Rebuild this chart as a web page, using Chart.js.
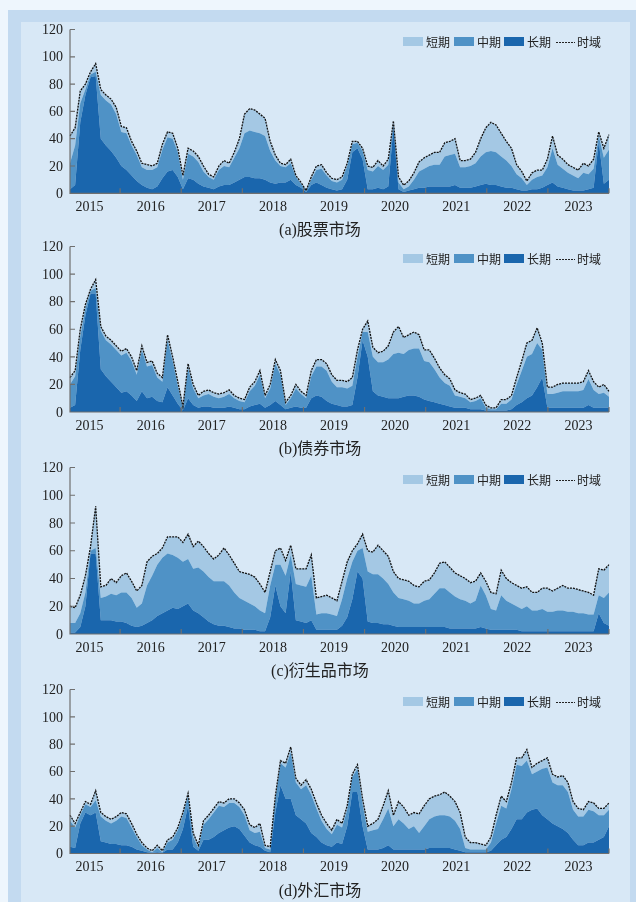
<!DOCTYPE html>
<html>
<head>
<meta charset="utf-8">
<script src="https://cdn.jsdelivr.net/npm/chart.js@4.4.1/dist/chart.umd.min.js"></script>
<style>
  html, body { margin: 0; padding: 0; width: 636px; height: 902px; overflow: hidden; background: #eef6fd; }
  #frame { position: absolute; left: 8px; top: 10px; width: 628px; height: 892px; background: #c3daf0; }
  #inner { position: absolute; left: 21px; top: 22px; width: 609px; height: 880px; background: #d8e8f6; }
  canvas { position: absolute; left: 0; }
  .cap { position: absolute; left: 0; width: 640px; text-align: center; font: 16px "Liberation Serif", "Noto Sans CJK SC", serif; color: #222; line-height: 20px; }
  .sw { position: absolute; width: 20px; height: 9px; }
  .lt { position: absolute; font: 12px "Noto Sans CJK SC", sans-serif; color: #222; line-height: 14px; }
  .dash { position: absolute; width: 19px; height: 1px; background: repeating-linear-gradient(to right, #222 0 2px, transparent 2px 3px); }
</style>
</head>
<body>
<div id="frame"></div>
<div id="inner"></div>
<canvas id="cA" width="636" height="220"></canvas>
<canvas id="cB" width="636" height="220"></canvas>
<canvas id="cC" width="636" height="220"></canvas>
<canvas id="cD" width="636" height="220"></canvas>
<script>
// Monthly samples, March 2015 to December 2023
const months = [];
for (let y = 2015; y <= 2023; y++) {
  for (let m = (y === 2015 ? 3 : 1); m <= 12; m++) months.push(y + '-' + String(m).padStart(2, '0'));
}
const yTicks = [0, 20, 40, 60, 80, 100, 120];
const yearLabels = ['2015', '2016', '2017', '2018', '2019', '2020', '2021', '2022', '2023'];
const yearBounds = [2016, 2017, 2018, 2019, 2020, 2021, 2022, 2023, 2024];
const seriesNames = ['短期', '中期', '长期', '时域'];
const colors = { short: '#a4c8e4', mid: '#4f92c6', long: '#1a66ad' };

// (a) 股票市场
const stockShort = [20,13,9,4,2,6,4,4,4,5, 4,4,3,3,3,4,3,3,4,4, 4,3,3,4,4,4,4,2,2,3, 4,3,4,7,14,16,16,14,13,7, 4,2,2,3,1,1,0,2,3,3, 2,2,2,2,2,2,1,2,3,3, 4,3,4,2,4,3,4,5,7,8, 8,9,9,10,10,11,5,5,5,8, 13,18,21,20,17,14,13,7,5,3, 5,5,4,6,9,7,7,6,6,6, 7,6,7,3,7,11];
const stockMid   = [19,29,14,4,2,3,32,33,34,32, 25,27,22,19,13,13,14,14,21,25, 23,18,7,18,17,16,11,8,7,12, 14,13,18,23,32,34,34,33,32,23, 17,12,11,12,6,3,1,4,9,12, 9,6,6,7,10,6,4,6,14,13, 16,14,16,3,5,2,3,7,12,14, 15,16,16,22,23,23,15,15,16,17, 21,23,25,24,22,20,16,11,9,4, 7,9,9,13,25,16,14,12,11,9, 13,11,14,4,19,22];
const stockLong  = [3,6,52,72,85,86,40,35,31,26, 20,17,13,9,6,4,3,5,11,16, 17,12,3,11,10,7,5,4,3,5, 6,6,8,10,12,12,11,11,10,8, 7,8,8,10,6,4,1,6,8,6, 4,3,2,3,10,30,33,25,3,3, 4,3,5,48,3,1,2,3,4,4, 5,5,5,5,5,6,4,4,4,5, 6,7,6,6,5,4,4,3,2,2, 3,3,4,6,8,5,4,3,2,2, 2,3,4,38,7,10];

// (b) 债券市场
const bondShort = [5,4,5,3,1,6,3,3,3,3, 3,3,3,3,3,3,3,3,3,4, 3,3,1,3,3,2,3,3,3,3, 3,3,2,2,2,3,3,3,2,3, 3,3,2,2,3,2,2,4,5,5, 5,5,5,5,5,6,5,2,8,7, 7,8,10,16,19,12,11,12,10,8, 9,8,7,6,5,4,3,3,2,2, 2,2,1,1,3,3,3,5,7,10, 10,11,5,5,5,6,6,6,6,6, 6,6,6,5,6,4];
const bondMid   = [17,21,10,5,2,4,28,26,27,27, 27,28,25,19,30,23,23,17,15,34, 25,13,2,22,12,7,8,9,8,7, 8,9,7,6,5,11,14,21,7,12, 27,22,3,7,13,10,7,16,21,22, 22,16,13,14,13,14,15,6,18,25, 24,25,28,32,33,31,33,34,35,28, 28,24,19,16,15,9,8,7,5,6, 8,2,1,1,5,5,7,15,23,30, 30,32,20,10,10,11,12,12,12,12, 13,19,13,10,11,8];
const bondLong  = [3,5,45,70,86,86,31,26,22,18, 14,15,12,8,15,10,11,8,7,18, 12,6,1,10,5,3,4,4,3,3, 3,4,3,2,2,4,5,6,3,5, 8,5,2,3,4,3,3,10,12,11, 8,6,5,4,4,5,25,52,40,15, 12,11,10,10,10,11,12,12,11,9, 8,7,6,5,4,3,3,3,2,2, 2,1,1,1,1,1,2,5,7,10, 12,18,25,3,3,3,3,3,3,3, 3,5,3,3,3,3];

// (c) 衍生品市场
const derivShort = [12,11,13,12,3,30,8,8,11,9, 12,14,12,12,13,17,14,8,7,12, 13,15,14,18,16,19,18,17,16,19, 24,22,21,19,20,21,21,19,15,10, 10,12,11,7,11,12,13,15,12,12, 13,12,11,13,12,8,5,10,15,16, 21,20,20,15,14,14,14,13,12,14, 14,15,18,19,18,17,17,16,15,14, 9,10,12,12,18,16,15,15,15,14, 13,13,15,17,15,16,18,17,17,17, 16,16,14,19,20,20];
const derivMid   = [7,7,10,10,2,4,16,17,19,19, 21,22,20,14,16,27,32,37,40,41, 38,37,32,32,30,33,33,32,31,32, 32,30,26,22,21,19,17,15,13,23, 15,30,27,12,26,26,26,32,11,12, 12,11,10,19,28,27,15,22,36,35, 35,33,29,24,21,20,19,17,17,19, 20,24,28,28,26,23,21,20,18,20, 30,24,15,14,25,21,19,17,16,18, 15,15,16,14,14,15,15,14,14,13, 13,12,12,13,18,24];
const derivLong  = [1,1,5,20,58,58,10,10,10,9, 9,8,6,5,6,8,10,13,15,17, 19,18,20,22,17,15,12,9,7,6, 6,5,4,4,3,3,3,2,2,12, 35,20,15,45,10,9,8,10,3,3, 3,3,3,6,12,25,45,40,9,8, 8,7,7,6,5,5,5,5,5,5, 5,5,5,5,4,4,4,4,4,4, 5,4,3,3,3,3,3,3,2,2, 2,2,2,2,2,2,2,2,2,2, 2,2,2,15,8,6];

// (d) 外汇市场
const fxShort = [4,3,2,2,2,7,3,3,3,3, 3,3,3,2,2,1,1,2,1,2, 2,2,2,2,3,2,3,3,3,3, 3,3,3,3,4,4,4,6,2,2, 2,2,3,4,3,3,4,4,4,4, 4,3,4,3,3,2,3,4,4,5, 7,10,13,8,13,12,10,10,14,15, 15,15,15,17,15,14,12,8,5,5, 4,3,4,6,7,5,5,5,6,8, 5,6,6,7,6,6,7,7,6,6, 5,6,6,5,5,5];
const fxMid   = [19,15,6,6,6,9,18,16,15,17, 21,20,14,9,4,2,0.5,3,0.5,5, 7,9,10,7,7,2,11,15,18,20, 17,18,17,16,15,9,9,11,2,2, 10,16,23,34,24,22,28,28,21,16, 12,9,13,12,12,11,17,16,13,14, 15,21,27,17,22,19,15,17,12,17, 21,23,24,24,23,21,16,3,2,2, 2,2,6,16,25,21,29,40,39,38, 26,27,34,38,30,30,32,30,22,21, 21,24,23,18,16,12];
const fxLong  = [5,4,22,30,28,30,9,8,7,7, 6,6,5,3,2,1,0.5,1,0.5,3, 3,8,18,35,5,2,10,10,12,15, 17,19,20,18,13,8,6,5,2,1, 30,50,40,40,28,25,22,15,12,8, 6,5,8,7,20,45,45,20,3,3, 3,4,6,3,3,3,3,3,3,3, 4,4,4,4,4,3,2,1,1,1, 1,1,2,6,10,12,18,25,25,30, 32,33,28,25,22,20,18,15,10,6, 6,8,8,10,12,20];

// Decimal years of the first and last monthly sample on the x axis
const axisFrom = 2015.18, axisTo = 2024.0;
const yearToIndex = yr => (yr - axisFrom) / (axisTo - axisFrom) * (months.length - 1);

const axesPlugin = {
  id: 'paperAxes',
  afterDraw(chart) {
    const ctx = chart.ctx, xs = chart.scales.x, ys = chart.scales.y;
    const { left, right, bottom } = chart.chartArea;
    const topPx = ys.getPixelForValue(120);
    ctx.save();
    ctx.strokeStyle = '#6f6f6f';
    ctx.lineWidth = 1.2;
    ctx.beginPath();
    ctx.moveTo(left, topPx); ctx.lineTo(left, bottom); ctx.lineTo(right, bottom);
    yTicks.forEach(v => {
      const p = ys.getPixelForValue(v);
      ctx.moveTo(left, p); ctx.lineTo(left + 5, p);
    });
    yearBounds.forEach(yr => {
      const p = xs.getPixelForValue(yearToIndex(yr));
      ctx.moveTo(p, bottom); ctx.lineTo(p, bottom - 5);
    });
    ctx.stroke();
    ctx.fillStyle = '#222';
    ctx.font = '14px "Liberation Serif", serif';
    ctx.textAlign = 'right';
    ctx.textBaseline = 'middle';
    yTicks.forEach(v => ctx.fillText(String(v), left - 7, ys.getPixelForValue(v) + 1));
    ctx.textAlign = 'center';
    yearLabels.forEach(yr => ctx.fillText(yr, xs.getPixelForValue(yearToIndex(+yr + 0.5)), bottom + 14));
    ctx.restore();
  }
};

function makePanel(id, canvasTop, plotTop, plotBottom, shortV, midV, longV, caption) {
  const cv = document.getElementById(id);
  cv.style.top = canvasTop + 'px';
  const total = shortV.map((s, i) => s + midV[i] + longV[i]);
  new Chart(cv, {
    type: 'line',
    data: {
      labels: months,
      datasets: [
        { label: seriesNames[3], data: total, yAxisID: 'yt', borderColor: '#111', borderWidth: 1.3,
          borderDash: [2, 1], pointRadius: 0, fill: false, tension: 0 },
        { label: seriesNames[2], data: longV, yAxisID: 'y', backgroundColor: colors.long, borderWidth: 0,
          pointRadius: 0, fill: 'origin', tension: 0 },
        { label: seriesNames[1], data: midV, yAxisID: 'y', backgroundColor: colors.mid, borderWidth: 0,
          pointRadius: 0, fill: '-1', tension: 0 },
        { label: seriesNames[0], data: shortV, yAxisID: 'y', backgroundColor: colors.short, borderWidth: 0,
          pointRadius: 0, fill: '-1', tension: 0 }
      ]
    },
    options: {
      responsive: false,
      animation: false,
      devicePixelRatio: 1,
      events: [],
      layout: { padding: { left: 70, right: 27, top: plotTop - canvasTop, bottom: 220 - (plotBottom - canvasTop) } },
      plugins: { legend: { display: false }, tooltip: { enabled: false } },
      scales: {
        x: { display: false },
        y: { display: false, stacked: true, min: 0, max: 120 },
        yt: { display: false, stacked: false, min: 0, max: 120 }
      }
    },
    plugins: [axesPlugin]
  });

  // legend row
  const ly = plotTop + 12;
  const items = [
    { sw: colors.short, x: 403, t: seriesNames[0], tx: 426 },
    { sw: colors.mid, x: 454, t: seriesNames[1], tx: 477 },
    { sw: colors.long, x: 504, t: seriesNames[2], tx: 527 }
  ];
  items.forEach(it => {
    const s = document.createElement('div');
    s.className = 'sw'; s.style.left = it.x + 'px'; s.style.top = (ly - 4.5) + 'px'; s.style.background = it.sw;
    document.body.appendChild(s);
    const t = document.createElement('div');
    t.className = 'lt'; t.style.left = it.tx + 'px'; t.style.top = (ly - 7) + 'px'; t.textContent = it.t;
    document.body.appendChild(t);
  });
  const d = document.createElement('div');
  d.className = 'dash'; d.style.left = '556px'; d.style.top = ly + 'px';
  document.body.appendChild(d);
  const dt = document.createElement('div');
  dt.className = 'lt'; dt.style.left = '577px'; dt.style.top = (ly - 7) + 'px'; dt.textContent = seriesNames[3];
  document.body.appendChild(dt);

  const c = document.createElement('div');
  c.className = 'cap'; c.style.top = (plotBottom + 27) + 'px'; c.textContent = caption;
  document.body.appendChild(c);
}

makePanel('cA', 0, 29.5, 193.3, stockShort, stockMid, stockLong, '(a)股票市场');
makePanel('cB', 217, 246.5, 412, bondShort, bondMid, bondLong, '(b)债券市场');
makePanel('cC', 438, 467.5, 634, derivShort, derivMid, derivLong, '(c)衍生品市场');
makePanel('cD', 660, 689.5, 853.5, fxShort, fxMid, fxLong, '(d)外汇市场');
</script>
</body>
</html>
